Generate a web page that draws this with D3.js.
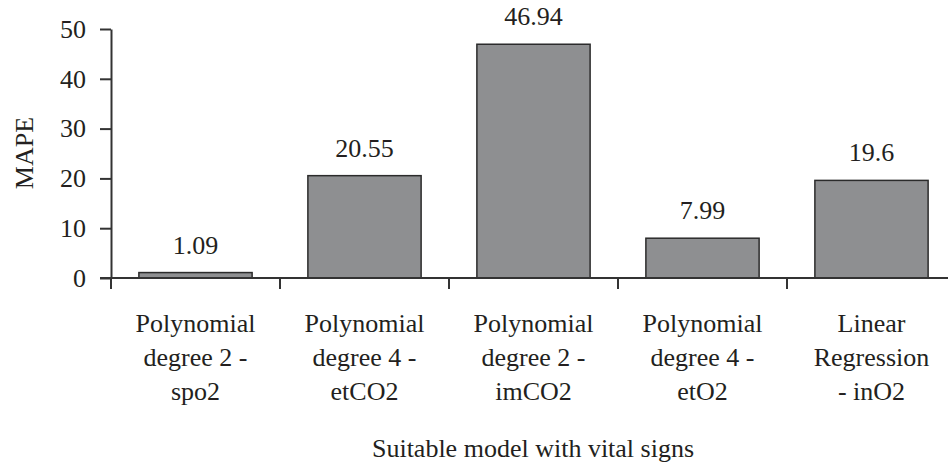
<!DOCTYPE html>
<html>
<head>
<meta charset="utf-8">
<script src="https://cdn.jsdelivr.net/npm/d3@7"></script>
<style>
body { margin: 0; background: #fff; }
</style>
</head>
<body>
<svg id="chart" width="948" height="465"></svg>
<script>
// data
const categories = [
    ["Polynomial", "degree 2 -", "spo2"],
    ["Polynomial", "degree 4 -", "etCO2"],
    ["Polynomial", "degree 2 -", "imCO2"],
    ["Polynomial", "degree 4 -", "etO2"],
    ["Linear", "Regression", "- inO2"]
];
const mape = [1.09, 20.55, 46.94, 7.99, 19.6];
const valueLabels = ["1.09", "20.55", "46.94", "7.99", "19.6"];
const yTicks = [0, 10, 20, 30, 40, 50];

const SERIF = '"Liberation Serif", "Times New Roman", serif';
const FONT = 26;
const INK = '#231f20';

const svg = d3.select('#chart')
    .style('font-family', SERIF);

const x = d3.scaleBand()
    .domain(d3.range(categories.length))
    .range([111, 956])
    .paddingInner(0.33)
    .paddingOuter(0.165);

const y = d3.scaleLinear().domain([0, 50]).range([278, 29]);

// bars
svg.append('g').selectAll('rect')
    .data(mape)
    .join('rect')
    .attr('x', (d, i) => x(i))
    .attr('y', d => y(d))
    .attr('width', x.bandwidth())
    .attr('height', d => y(0) - y(d))
    .attr('fill', '#8e8f91')
    .attr('stroke', '#2b2b2b')
    .attr('stroke-width', 1.5);

// value labels
svg.append('g').selectAll('text')
    .data(mape)
    .join('text')
    .attr('x', (d, i) => x(i) + x.bandwidth() / 2)
    .attr('y', d => y(d) - 19)
    .attr('text-anchor', 'middle')
    .style('font-family', SERIF)
    .style('font-size', FONT + 'px')
    .style('fill', INK)
    .text((d, i) => valueLabels[i]);

// y axis
const yAxis = svg.append('g')
    .attr('transform', 'translate(111,0)')
    .call(d3.axisLeft(y).tickValues(yTicks).tickSize(11).tickPadding(14).tickSizeOuter(0));
yAxis.attr('font-family', null);
yAxis.select('.domain').attr('stroke', '#333').attr('stroke-width', 2);
yAxis.selectAll('.tick line').attr('stroke', '#333').attr('stroke-width', 2);
yAxis.selectAll('.tick text')
    .style('font-family', SERIF)
    .style('font-size', FONT + 'px')
    .style('fill', INK);

// x axis: line with ticks at band boundaries
const step = x.step();
const bounds = d3.range(categories.length + 1).map(i => x(0) - x.paddingOuter() * step + i * step);
const xg = svg.append('g');
xg.append('line')
    .attr('x1', 100).attr('x2', 948)
    .attr('y1', y(0)).attr('y2', y(0))
    .attr('stroke', '#333').attr('stroke-width', 2);
xg.selectAll('line.tk')
    .data(bounds)
    .join('line')
    .attr('class', 'tk')
    .attr('x1', d => d).attr('x2', d => d)
    .attr('y1', y(0)).attr('y2', y(0) + 11)
    .attr('stroke', '#333').attr('stroke-width', 2);

// category labels (three lines each)
const lbl = xg.selectAll('text.cat')
    .data(categories)
    .join('text')
    .attr('class', 'cat')
    .attr('text-anchor', 'middle')
    .style('font-family', SERIF)
    .style('font-size', FONT + 'px')
    .style('fill', INK);
lbl.selectAll('tspan')
    .data((d, i) => d.map(s => ({ s, i })))
    .join('tspan')
    .attr('x', d => x(d.i) + x.bandwidth() / 2)
    .attr('y', (d, j) => 332 + j * 34)
    .text(d => d.s);

// axis titles
svg.append('text')
    .attr('x', 533).attr('y', 457)
    .attr('text-anchor', 'middle')
    .style('font-family', SERIF)
    .style('font-size', FONT + 'px')
    .style('fill', INK)
    .text('Suitable model with vital signs');

svg.append('text')
    .attr('transform', 'translate(33,153) rotate(-90)')
    .attr('text-anchor', 'middle')
    .style('font-family', SERIF)
    .style('font-size', FONT + 'px')
    .style('fill', INK)
    .text('MAPE');
</script>
</body>
</html>
